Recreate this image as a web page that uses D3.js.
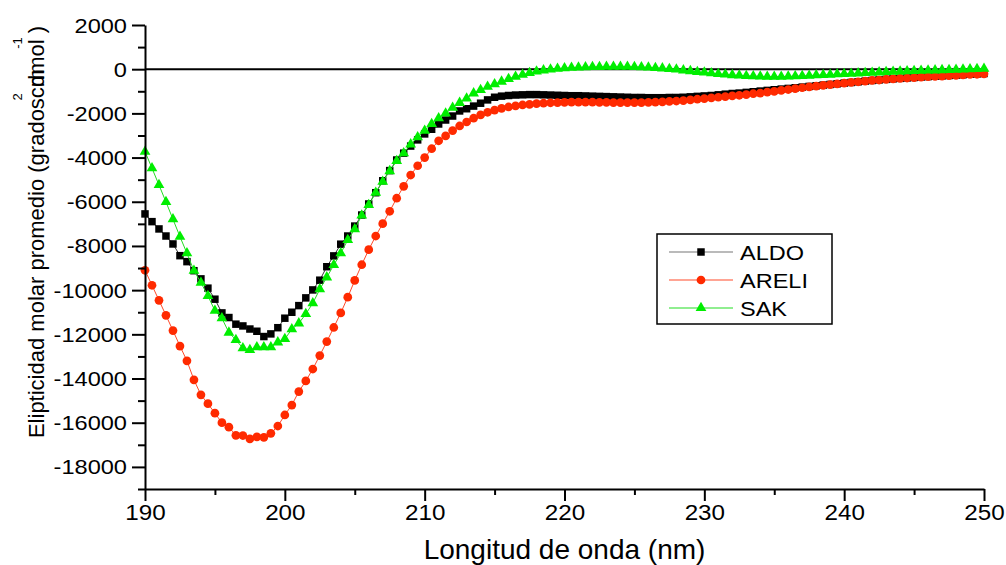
<!DOCTYPE html>
<html>
<head>
<meta charset="utf-8">
<script src="https://cdn.jsdelivr.net/npm/d3@7"></script>
<style>
  body { margin: 0; background: #fff; }
  text { font-family: "Liberation Sans", Arial, sans-serif; fill: #000; }
</style>
</head>
<body>
<div id="chart"></div>
<script>
// wavelength (nm), one reading every 0.5 nm
var wavelength = [190,190.5,191,191.5,192,192.5,193,193.5,194,194.5,195,195.5,196,196.5,197,197.5,198,198.5,199,199.5,
  200,200.5,201,201.5,202,202.5,203,203.5,204,204.5,205,205.5,206,206.5,207,207.5,208,208.5,209,209.5,
  210,210.5,211,211.5,212,212.5,213,213.5,214,214.5,215,215.5,216,216.5,217,217.5,218,218.5,219,219.5,
  220,220.5,221,221.5,222,222.5,223,223.5,224,224.5,225,225.5,226,226.5,227,227.5,228,228.5,229,229.5,
  230,230.5,231,231.5,232,232.5,233,233.5,234,234.5,235,235.5,236,236.5,237,237.5,238,238.5,239,239.5,
  240,240.5,241,241.5,242,242.5,243,243.5,244,244.5,245,245.5,246,246.5,247,247.5,248,248.5,249,249.5,250];

var aldo = [-6550,-6900,-7230,-7550,-7910,-8440,-8710,-9120,-9490,-9910,
  -10410,-11030,-11240,-11540,-11620,-11760,-11860,-12100,-11980,-11700,
  -11270,-11000,-10700,-10350,-9990,-9550,-8940,-8450,-7920,-7550,
  -7100,-6600,-6100,-5590,-5050,-4590,-4110,-3800,-3480,-3200,
  -2930,-2720,-2480,-2300,-2120,-1890,-1790,-1670,-1540,-1390,
  -1270,-1220,-1190,-1170,-1160,-1150,-1150,-1160,-1170,-1180,
  -1190,-1200,-1200,-1210,-1220,-1230,-1240,-1250,-1260,-1270,
  -1280,-1280,-1290,-1290,-1290,-1280,-1280,-1270,-1250,-1230,
  -1210,-1190,-1160,-1130,-1100,-1080,-1050,-1020,-990,-960,
  -930,-900,-870,-840,-810,-780,-750,-720,-690,-660,
  -630,-600,-570,-540,-510,-485,-460,-435,-415,-395,
  -375,-355,-335,-320,-300,-285,-270,-250,-230,-215,-195];

var areli = [-9100,-9780,-10460,-11140,-11830,-12530,-13200,-14060,-14740,-15140,
  -15570,-16000,-16200,-16570,-16580,-16730,-16640,-16660,-16480,-16150,
  -15650,-15200,-14590,-14110,-13570,-12960,-12330,-11690,-11030,-10320,
  -9560,-8850,-8170,-7550,-6990,-6430,-5840,-5300,-4790,-4370,
  -4000,-3600,-3240,-3020,-2780,-2570,-2390,-2220,-2070,-1950,
  -1850,-1770,-1710,-1660,-1620,-1590,-1560,-1540,-1520,-1510,
  -1500,-1490,-1490,-1490,-1490,-1500,-1500,-1510,-1510,-1510,
  -1510,-1510,-1500,-1490,-1480,-1460,-1440,-1420,-1390,-1360,
  -1330,-1300,-1270,-1240,-1210,-1180,-1150,-1110,-1080,-1040,
  -1000,-960,-920,-880,-840,-800,-770,-730,-700,-670,
  -630,-600,-570,-540,-510,-490,-460,-440,-420,-400,
  -380,-360,-340,-330,-310,-290,-280,-260,-240,-230,-210];

var sak = [-3730,-4480,-5240,-6010,-6790,-7580,-8330,-9120,-9660,-10260,
  -10930,-11270,-11920,-12250,-12630,-12710,-12580,-12580,-12580,-12360,
  -12210,-11770,-11500,-11080,-10590,-9960,-9420,-8860,-8330,-7730,
  -7240,-6620,-6145,-5590,-5090,-4610,-4150,-3800,-3400,-3080,
  -2780,-2480,-2220,-2000,-1740,-1520,-1320,-1090,-940,-790,
  -680,-560,-440,-340,-250,-170,-100,-50,-10,20,
  50,70,80,90,100,105,110,112,112,110,
  105,95,80,60,40,15,-15,-50,-85,-120,
  -150,-180,-210,-240,-265,-285,-305,-320,-330,-335,
  -338,-335,-330,-320,-305,-290,-275,-260,-245,-230,
  -215,-200,-185,-170,-155,-140,-125,-110,-100,-90,
  -80,-70,-60,-50,-40,-30,-20,-10,0,10,20];

var seriesNames = ["ALDO", "ARELI", "SAK"];
var xMajorTicks = [190, 200, 210, 220, 230, 240, 250];
var xMinorTicks = [195, 205, 215, 225, 235, 245];
var yMajorTicks = [2000, 0, -2000, -4000, -6000, -8000, -10000, -12000, -14000, -16000, -18000];
var yMinorTicks = [1000, -1000, -3000, -5000, -7000, -9000, -11000, -13000, -15000, -17000, -19000];

var width = 1006, height = 565;
var plot = { left: 145, right: 984, top: 25, bottom: 489 };

var x = d3.scaleLinear().domain([190, 250]).range([plot.left, plot.right]);
var y = d3.scaleLinear().domain([-19000, 2000]).range([plot.bottom, plot.top]);

var svg = d3.select('#chart').append('svg')
    .attr('width', width)
    .attr('height', height);

// series styles
var styles = [
  { values: aldo,  line: '#333333', fill: '#000000', symbol: d3.symbolSquare,   size: 56 },
  { values: areli, line: '#ff4a2a', fill: '#ff2a00', symbol: d3.symbolCircle,   size: 60 },
  { values: sak,   line: '#22dd22', fill: '#00ee00', symbol: d3.symbolTriangle, size: 50 }
];

// zero line
svg.append('line')
    .attr('x1', x(190)).attr('x2', x(250))
    .attr('y1', y(0)).attr('y2', y(0))
    .attr('stroke', '#000').attr('stroke-width', 2);

var line = d3.line()
    .x(function(d) { return x(d[0]); })
    .y(function(d) { return y(d[1]); });

styles.forEach(function(s, i) {
  var pts = wavelength.map(function(w, j) { return [w, s.values[j]]; });
  var g = svg.append('g').attr('class', 'series-' + seriesNames[i]);
  g.append('path')
      .datum(pts)
      .attr('d', line)
      .attr('fill', 'none')
      .attr('stroke', s.line)
      .attr('stroke-width', 1);
  g.selectAll('path.mark')
      .data(pts)
      .enter().append('path')
      .attr('class', 'mark')
      .attr('d', d3.symbol().type(s.symbol).size(s.size))
      .attr('fill', s.fill)
      .attr('transform', function(d) { return 'translate(' + x(d[0]) + ',' + y(d[1]) + ')'; });
});

// axes
var yAxis = svg.append('g')
    .attr('transform', 'translate(' + plot.left + ',0)')
    .call(d3.axisLeft(y).tickValues(yMajorTicks).tickSize(13).tickSizeOuter(0)
      .tickFormat(function(d) { return String(d); }));
svg.append('g')
    .attr('transform', 'translate(' + plot.left + ',0)')
    .call(d3.axisLeft(y).tickValues(yMinorTicks).tickSize(7).tickFormat(''))
    .select('.domain').remove();

var xAxis = svg.append('g')
    .attr('transform', 'translate(0,' + plot.bottom + ')')
    .call(d3.axisBottom(x).tickValues(xMajorTicks).tickSize(12).tickSizeOuter(0)
      .tickFormat(function(d) { return String(d); }));
svg.append('g')
    .attr('transform', 'translate(0,' + plot.bottom + ')')
    .call(d3.axisBottom(x).tickValues(xMinorTicks).tickSize(6).tickFormat(''))
    .select('.domain').remove();

svg.selectAll('.domain, .tick line').attr('stroke', '#000').attr('stroke-width', 2);

yAxis.selectAll('.tick text')
    .attr('x', null).attr('dy', null)
    .attr('transform', 'translate(-18,7) scale(1.18,1)')
    .style('font-size', '20px')
    .style('font-family', '"Liberation Sans", Arial, sans-serif');

xAxis.selectAll('.tick text')
    .attr('y', null).attr('dy', null)
    .attr('transform', 'translate(0,31) scale(1.1,1)')
    .style('font-size', '22px')
    .style('font-family', '"Liberation Sans", Arial, sans-serif');

// axis titles
svg.append('text')
    .attr('x', (plot.left + plot.right) / 2)
    .attr('y', 559)
    .attr('text-anchor', 'middle')
    .style('font-size', '28px')
    .text('Longitud de onda (nm)');

var yTitle = svg.append('text')
    .attr('transform', 'translate(44,' + 232 + ') rotate(-90)')
    .attr('text-anchor', 'middle')
    .style('font-size', '22px');
yTitle.append('tspan').text('Elipticidad molar promedio (gradoscm');
yTitle.append('tspan').attr('dx', '-0.83em').text('dmol )');

svg.append('text')
    .attr('transform', 'translate(22,97) rotate(-90)')
    .attr('text-anchor', 'middle')
    .style('font-size', '13px')
    .text('2');
svg.append('text')
    .attr('transform', 'translate(22,43) rotate(-90)')
    .attr('text-anchor', 'middle')
    .style('font-size', '13px')
    .text('-1');

// legend
var legend = svg.append('g').attr('class', 'legend');
legend.append('rect')
    .attr('x', 657).attr('y', 234)
    .attr('width', 175).attr('height', 90)
    .attr('fill', '#fff')
    .attr('stroke', '#000').attr('stroke-width', 1.5);

seriesNames.forEach(function(name, i) {
  var s = styles[i];
  var ly = 252 + i * 28;
  legend.append('line')
      .attr('x1', 669).attr('x2', 733)
      .attr('y1', ly).attr('y2', ly)
      .attr('stroke', i === 0 ? '#777' : s.line)
      .attr('stroke-width', 1.2);
  legend.append('path')
      .attr('d', d3.symbol().type(s.symbol).size(s.size))
      .attr('fill', s.fill)
      .attr('transform', 'translate(701,' + ly + ')');
  legend.append('text')
      .attr('transform', 'translate(740,' + (ly + 8) + ') scale(1.12,1)')
      .style('font-size', '21px')
      .text(name);
});
</script>
</body>
</html>
